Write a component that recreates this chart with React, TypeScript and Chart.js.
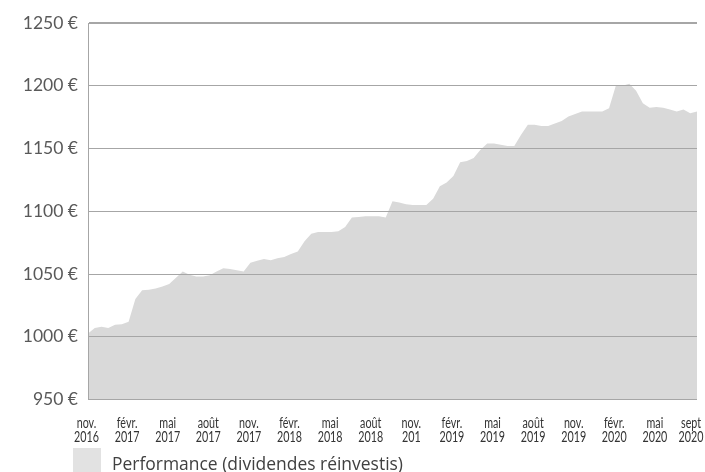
import React, { useEffect, useRef } from "react";
import { Chart, registerables } from "chart.js";

Chart.register(...registerables);

const tickMonths = ["nov.", "févr.", "mai", "août", "nov.", "févr.", "mai", "août", "nov.", "févr.", "mai", "août", "nov.", "févr.", "mai", "sept"];
const tickYears = ["2016", "2017", "2017", "2017", "2017", "2018", "2018", "2018", "201", "2019", "2019", "2019", "2019", "2020", "2020", "2020"];
const pointsPerTick = 6;

const seriesLabel = "Performance (dividendes réinvestis)";

const performance = [
  1002.5, 1007, 1008, 1007, 1009.5, 1010, 1012, 1030, 1037, 1037.5,
  1038.5, 1040, 1042, 1047, 1052, 1049.5, 1048, 1048, 1049, 1052,
  1054.5, 1054, 1053, 1052, 1059, 1060.5, 1062, 1061, 1062.5, 1063.5,
  1066, 1068, 1076, 1082, 1083.5, 1083.5, 1083.5, 1084, 1087.5, 1095,
  1095.5, 1096, 1096, 1096, 1095, 1108, 1107, 1105.5, 1105, 1105,
  1105, 1110, 1120, 1123, 1128, 1139, 1140, 1142.5, 1149, 1154,
  1154, 1153, 1152, 1152, 1161, 1169, 1169, 1168, 1168, 1170,
  1172, 1175.5, 1177.5, 1179.5, 1179.5, 1179.5, 1179.5, 1182, 1200, 1200,
  1201.5, 1196, 1186, 1182.5, 1183, 1182.5, 1181, 1179.5, 1181, 1178,
  1179.5,
];

const categories = performance.map((_, i) => i);

const yMin = 950;
const yMax = 1250;
const yStep = 50;

const xLabelFont = "14.5px Lato";
const xLabelSquash = 0.74;

const drawPlugin = {
  id: "customTicksAndLegend",
  afterDraw(chart: any) {
    const ctx = chart.ctx;
    const xScale = chart.scales.x;

    // x tick labels (two lines, condensed)
    ctx.save();
    ctx.fillStyle = "#333333";
    ctx.font = xLabelFont;
    ctx.textAlign = "center";
    ctx.textBaseline = "alphabetic";
    const base1 = xScale.top + 28.5;
    const base2 = base1 + 13.8;
    tickMonths.forEach((m, k) => {
      const y = tickYears[k];
      const px = xScale.getPixelForValue(k * pointsPerTick);
      const w = Math.max(ctx.measureText(m).width, ctx.measureText(y).width) * xLabelSquash;
      const cx = Math.min(px - 1.5, chart.width - w / 2 - 1.5);
      ctx.save();
      ctx.translate(cx, 0);
      ctx.scale(xLabelSquash, 1);
      ctx.fillText(m, 0, base1);
      ctx.fillText(y, 0, base2);
      ctx.restore();
    });
    ctx.restore();

    // legend
    ctx.save();
    ctx.fillStyle = "#e2e2e2";
    ctx.fillRect(73, 448, 28, 30);
    ctx.fillStyle = "#404040";
    ctx.font = "18px 'Open Sans'";
    ctx.textBaseline = "alphabetic";
    ctx.textAlign = "left";
    const tw = ctx.measureText(seriesLabel).width;
    const sx = 291 / tw;
    ctx.translate(112, 470);
    ctx.scale(sx, 1);
    ctx.fillText(seriesLabel, 0, 0);
    ctx.restore();
  },
};

export default function App() {
  const ref = useRef<HTMLCanvasElement | null>(null);

  useEffect(() => {
    if (!ref.current) return;
    const chart = new Chart(ref.current, {
      type: "line",
      data: {
        labels: categories,
        datasets: [
          {
            label: seriesLabel,
            data: performance,
            fill: "start",
            backgroundColor: "#d9d9d9",
            borderWidth: 0,
            borderColor: "rgba(0,0,0,0)",
            pointRadius: 0,
            tension: 0,
          },
        ],
      },
      options: {
        animation: false,
        responsive: false,
        layout: { padding: { left: 0, right: 8, top: 23, bottom: 0 } },
        plugins: {
          legend: { display: false },
          tooltip: { enabled: false },
        },
        scales: {
          x: {
            type: "category",
            offset: false,
            grid: { display: false, drawTicks: false },
            border: { display: false },
            ticks: { display: false, autoSkip: false, maxRotation: 0 },
            afterFit: (scale: any) => {
              scale.height = 72.5;
              scale.paddingLeft = 0;
              scale.paddingRight = 0;
            },
          },
          y: {
            min: yMin,
            max: yMax,
            grid: {
              z: 1,
              color: "#a6a6a6",
              lineWidth: (c: any) => (c.tick && c.tick.value === yMax ? 2 : 1),
              drawTicks: false,
            },
            border: { display: true, color: "#a6a6a6", width: 1, z: 1 },
            ticks: {
              stepSize: yStep,
              padding: 10,
              color: "#595959",
              font: { family: "Lato", size: 17.5 },
              callback: (v: any) => `${v} €`,
            },
            afterFit: (scale: any) => {
              scale.width = 88;
            },
          },
        },
      },
      plugins: [drawPlugin],
    });
    return () => chart.destroy();
  }, []);

  return (
    <div style={{ position: "absolute", left: 0, top: 0, width: 705, height: 472, background: "#fff" }}>
      <canvas ref={ref} width={705} height={472} />
    </div>
  );
}
